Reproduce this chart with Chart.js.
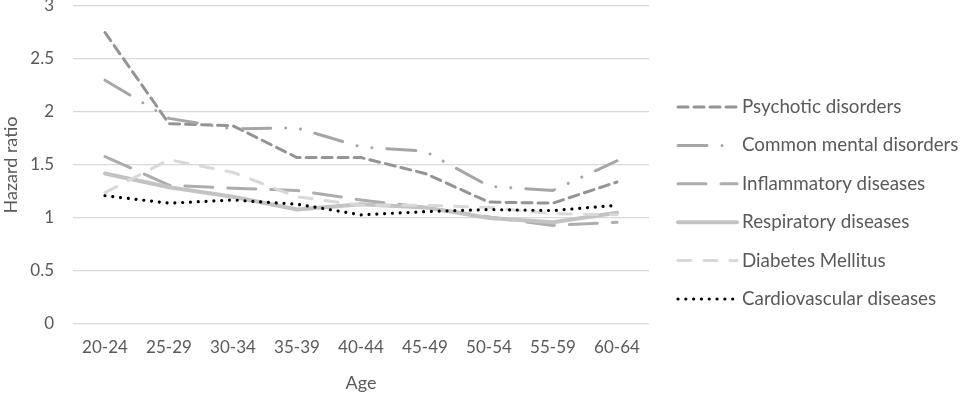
<!DOCTYPE html>
<html>
<head>
<meta charset="utf-8">
<script src="https://cdn.jsdelivr.net/npm/chart.js@4/dist/chart.umd.min.js"></script>
<style>
  html, body { margin: 0; padding: 0; background: #ffffff; }
  #wrap { width: 961px; height: 394px; position: relative; }
</style>
</head>
<body>
<div id="wrap"><canvas id="c" width="961" height="394"></canvas></div>
<script>
const categories = ["20-24", "25-29", "30-34", "35-39", "40-44", "45-49", "50-54", "55-59", "60-64"];
const seriesNames = ["Psychotic disorders", "Common mental disorders", "Inflammatory diseases", "Respiratory diseases", "Diabetes Mellitus", "Cardiovascular diseases"];
const psychotic      = [2.75, 1.89, 1.87, 1.57, 1.57, 1.42, 1.15, 1.14, 1.34];
const commonMental   = [2.30, 1.94, 1.84, 1.85, 1.67, 1.63, 1.30, 1.26, 1.54];
const inflammatory   = [1.58, 1.31, 1.28, 1.26, 1.17, 1.10, 1.01, 0.93, 0.96];
const respiratory    = [1.42, 1.29, 1.20, 1.08, 1.13, 1.10, 1.00, 0.96, 1.05];
const diabetes       = [1.24, 1.55, 1.43, 1.20, 1.12, 1.12, 1.10, 1.04, 1.03];
const cardiovascular = [1.21, 1.14, 1.17, 1.13, 1.03, 1.06, 1.08, 1.07, 1.12];
const yTicks = [0, 0.5, 1, 1.5, 2, 2.5, 3];
const yTickLabels = ["0", "0.5", "1", "1.5", "2", "2.5", "3"];

const FONT = "Lato, 'Open Sans', sans-serif";
const TXT = "#595959";

const styles = [
  { color: "#949494", width: 3, dash: [10, 6] },
  { color: "#a6a6a6", width: 3, dash: [29, 15, 0.01, 15, 0.01, 15] },
  { color: "#adadad", width: 3, dash: [28, 15] },
  { color: "#c3c3c3", width: 4, dash: [] },
  { color: "#d9d9d9", width: 3, dash: [13, 13] },
  { color: "#000000", width: 3.2, dash: [0.01, 7.8] }
];
const seriesData = [psychotic, commonMental, inflammatory, respiratory, diabetes, cardiovascular];

const datasets = seriesData.map((d, i) => ({
  label: seriesNames[i],
  data: d,
  borderColor: styles[i].color,
  backgroundColor: styles[i].color,
  borderWidth: styles[i].width,
  borderDash: styles[i].dash,
  borderCapStyle: "round",
  borderJoinStyle: "round",
  pointRadius: 0,
  pointHoverRadius: 0,
  tension: 0,
  fill: false,
  order: seriesData.length - 1 - i
}));

const legendPlugin = {
  id: "sideLegend",
  afterDraw(chart) {
    const ctx = chart.ctx;
    ctx.save();
    const x0 = 678, x1 = 737, y0 = 107, step = 38.4;
    chart.data.datasets.forEach((ds, i) => {
      const y = y0 + i * step;
      ctx.beginPath();
      ctx.strokeStyle = ds.borderColor;
      ctx.lineWidth = ds.borderWidth;
      ctx.lineCap = "round";
      ctx.setLineDash(ds.borderDash);
      ctx.moveTo(x0, y);
      ctx.lineTo(x1, y);
      ctx.stroke();
      ctx.setLineDash([]);
      ctx.fillStyle = TXT;
      ctx.font = "18.8px " + FONT;
      ctx.textBaseline = "middle";
      ctx.textAlign = "left";
      ctx.fillText(ds.label, 742, y);
    });
    ctx.restore();
  }
};

new Chart(document.getElementById("c"), {
  type: "line",
  data: { labels: categories, datasets: datasets },
  options: {
    responsive: false,
    animation: false,
    devicePixelRatio: 1,
    layout: { padding: { left: 0, right: 312, top: 6, bottom: 0 } },
    plugins: {
      legend: { display: false },
      tooltip: { enabled: false }
    },
    scales: {
      x: {
        type: "category",
        offset: true,
        grid: { display: false, drawTicks: false },
        border: { display: false },
        ticks: { color: TXT, font: { family: FONT, size: 17 }, padding: 13, maxRotation: 0, autoSkip: false },
        title: { display: true, text: "Age", color: TXT, font: { family: FONT, size: 18 }, padding: { top: 7, bottom: 0 } },
        afterFit(s) { s.height = 70; s.paddingLeft = 0; s.paddingRight = 0; }
      },
      y: {
        min: 0, max: 3,
        afterBuildTicks(s) { s.ticks = yTicks.map(v => ({ value: v })); },
        grid: { color: "#d9d9d9", lineWidth: 1.3, drawTicks: false },
        border: { display: false },
        ticks: {
          color: TXT, font: { family: FONT, size: 17 }, padding: 19,
          callback(v) { const k = yTicks.indexOf(v); return k >= 0 ? yTickLabels[k] : ""; }
        },
        title: { display: true, text: "Hazard ratio", color: TXT, font: { family: FONT, size: 18 }, padding: { top: 0, bottom: 0 } },
        afterFit(s) { s.width = 73; s.paddingTop = 0; s.paddingBottom = 0; }
      }
    }
  },
  plugins: [legendPlugin]
});
</script>
</body>
</html>
